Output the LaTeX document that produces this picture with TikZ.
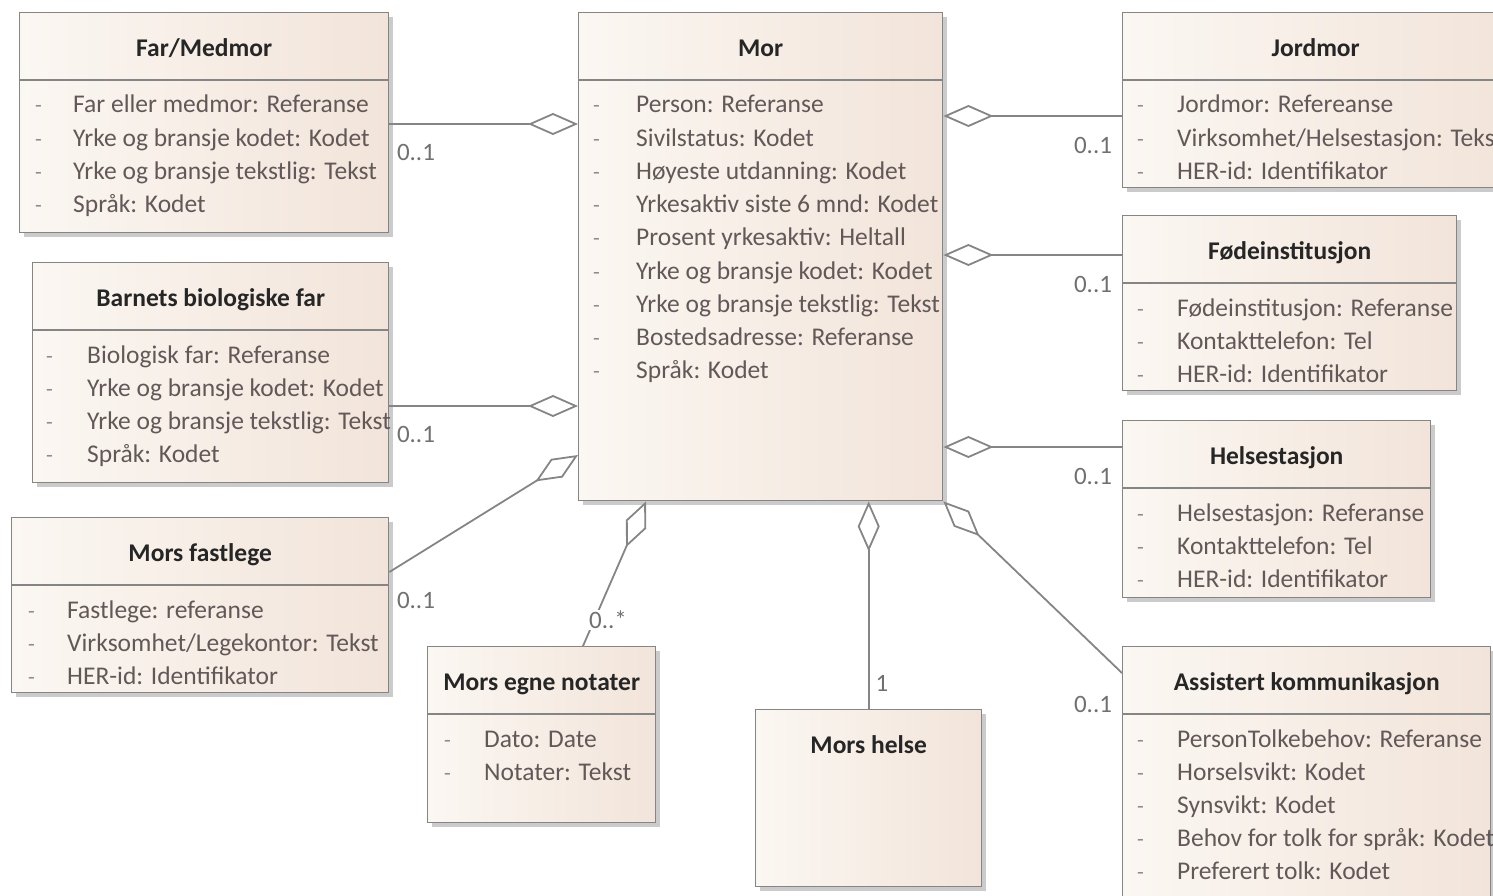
\documentclass[tikz,border=0pt]{standalone}
\usepackage{fontspec}
\setmainfont{Carlito}
\usetikzlibrary{arrows.meta,shadows,calc}

\definecolor{boxL}{HTML}{FBF7F2}
\definecolor{boxR}{HTML}{F2E4DA}
\definecolor{edge}{HTML}{858585}
\definecolor{attrtext}{HTML}{625858}
\definecolor{multext}{HTML}{707070}

\tikzset{
  umlbox/.style={draw=edge, line width=1.4pt, left color=boxL, right color=boxR,
    anchor=north west, inner sep=0pt,
    drop shadow={shadow xshift=4pt, shadow yshift=-4pt, fill=black!45, opacity=.45}},
  sepline/.style={draw=edge, line width=1.4pt},
  boxtitle/.style={font=\fontsize{25.5}{30}\selectfont\bfseries, text=black!85, inner sep=0pt, anchor=base},
  attr/.style={font=\fontsize{25.5}{30}\selectfont, text=attrtext, anchor=base west, inner sep=0pt},
  dashmark/.style={font=\fontsize{22}{26}\selectfont, text=attrtext!70, anchor=base west, inner sep=0pt},
  assoc/.style={draw=edge, line width=1.8pt, -{Diamond[open, length=50pt, width=22pt]}},
  mult/.style={font=\fontsize{25}{30}\selectfont, text=multext, inner sep=1pt},
}

% class box: name, x, y, width, height, title
\newcommand\umlclass[6]{%
  \node[umlbox, minimum width=#4pt, minimum height=#5pt] (#1) at (#2,#3) {};
  \node[boxtitle] (#1-title) at ($(#1.north)+(0,44.5)$) {#6};
}
% separator between title and attribute compartments
\newcommand\umlsep[1]{%
  \draw[sepline] ($(#1.north west)+(0,68)$) -- ($(#1.north east)+(0,68)$);
}
% attribute list: box, dash offset, text offset, items
\newcommand\umlattrs[4]{%
  \foreach \t [count=\i] in {#4} {
    \node[dashmark] (#1-d\i) at ($(#1.north west)+(#2, 67.8+33.2*\i)$) {-};
    \node[attr] (#1-a\i) at ($(#1.north west)+(#3, 67.8+33.2*\i)$) {\t};
  }
}

\begin{document}
\begin{tikzpicture}[x=1pt, y=-1pt]
\useasboundingbox (0,0) rectangle (1493,896);
\clip (0,0) rectangle (1493,896);

% --- classes ---
\umlclass{far}{19}{12}{369}{220}{Far/Medmor}
\umlsep{far}
\umlattrs{far}{16}{54}{{Far eller medmor: Referanse},{Yrke og bransje kodet: Kodet},{Yrke og bransje tekstlig: Tekst},{Språk: Kodet}}

\umlclass{bio}{32}{262}{356}{220}{Barnets biologiske far}
\umlsep{bio}
\umlattrs{bio}{14}{55}{{Biologisk far: Referanse},{Yrke og bransje kodet: Kodet},{Yrke og bransje tekstlig: Tekst},{Språk: Kodet}}

\umlclass{fast}{11}{517}{377}{175}{Mors fastlege}
\umlsep{fast}
\umlattrs{fast}{17}{56}{{Fastlege: referanse},{Virksomhet/Legekontor: Tekst},{HER-id: Identifikator}}

\umlclass{mor}{578}{12}{364}{488}{Mor}
\umlsep{mor}
\umlattrs{mor}{15}{58}{{Person: Referanse},{Sivilstatus: Kodet},{Høyeste utdanning: Kodet},{Yrkesaktiv siste 6 mnd: Kodet},{Prosent yrkesaktiv: Heltall},{Yrke og bransje kodet: Kodet},{Yrke og bransje tekstlig: Tekst},{Bostedsadresse: Referanse},{Språk: Kodet}}

\umlclass{jord}{1122}{12}{386}{175}{Jordmor}
\umlsep{jord}
\umlattrs{jord}{15}{55}{{Jordmor: Refereanse},{Virksomhet/Helsestasjon: Tekst},{HER-id: Identifikator}}

\umlclass{fode}{1122}{215}{334}{175}{Fødeinstitusjon}
\umlsep{fode}
\umlattrs{fode}{15}{55}{{Fødeinstitusjon: Referanse},{Kontakttelefon: Tel},{HER-id: Identifikator}}

\umlclass{helst}{1122}{420}{308}{177}{Helsestasjon}
\umlsep{helst}
\umlattrs{helst}{15}{55}{{Helsestasjon: Referanse},{Kontakttelefon: Tel},{HER-id: Identifikator}}

\umlclass{assist}{1122}{646}{368}{270}{Assistert kommunikasjon}
\umlsep{assist}
\umlattrs{assist}{15}{55}{{PersonTolkebehov: Referanse},{Horselsvikt: Kodet},{Synsvikt: Kodet},{Behov for tolk for språk: Kodet},{Preferert tolk: Kodet}}

\umlclass{notat}{427}{646}{228}{176}{Mors egne notater}
\umlsep{notat}
\umlattrs{notat}{17}{57}{{Dato: Date},{Notater: Tekst}}

\umlclass{helse}{755}{709}{226}{177}{Mors helse}

% --- aggregations towards Mor ---
\coordinate (pFar)   at ($(mor.north west)+(0,112)$);
\coordinate (pBio)   at ($(mor.north west)+(0,394)$);
\coordinate (pFast)  at ($(mor.north west)+(0,443)$);
\coordinate (qFast)  at ($(fast.north east)+(0,55)$);
\coordinate (pNot)   at ($(mor.south west)+(68,0)$);
\coordinate (qNot)   at ($(notat.north west)+(156,0)$);
\coordinate (qAs)    at ($(assist.north west)+(0,27)$);
\coordinate (pJord)  at ($(mor.north east)+(0,104)$);
\coordinate (pFode)  at ($(mor.north east)+(0,243)$);
\coordinate (pHelst) at ($(mor.north east)+(0,435)$);

\draw[assoc] (far.east |- pFar) -- (pFar);
\draw[assoc] (bio.east |- pBio) -- (pBio);
\draw[assoc] (qFast) -- (pFast);
\draw[assoc] (qNot) -- (pNot);
\draw[assoc] (helse.north) -- (helse.north |- mor.south);
\draw[assoc] (qAs) -- (mor.south east);
\draw[assoc] (jord.west |- pJord) -- (pJord);
\draw[assoc] (fode.west |- pFode) -- (pFode);
\draw[assoc] (helst.west |- pHelst) -- (pHelst);

% --- multiplicities ---
\node[mult] (mFar)   at (416,152) {0..1};
\node[mult] (mBio)   at (416,434) {0..1};
\node[mult] (mFast)  at (416,600) {0..1};
\node[mult, fill=white] (mNot) at (608,620) {0..*};
\node[mult] (mHelse) at (882,683) {1};
\node[mult] (mJord)  at (1093,145) {0..1};
\node[mult] (mFode)  at (1093,284) {0..1};
\node[mult] (mHelst) at (1093,476) {0..1};
\node[mult] (mAs)    at (1093,704) {0..1};
\end{tikzpicture}
\end{document}
